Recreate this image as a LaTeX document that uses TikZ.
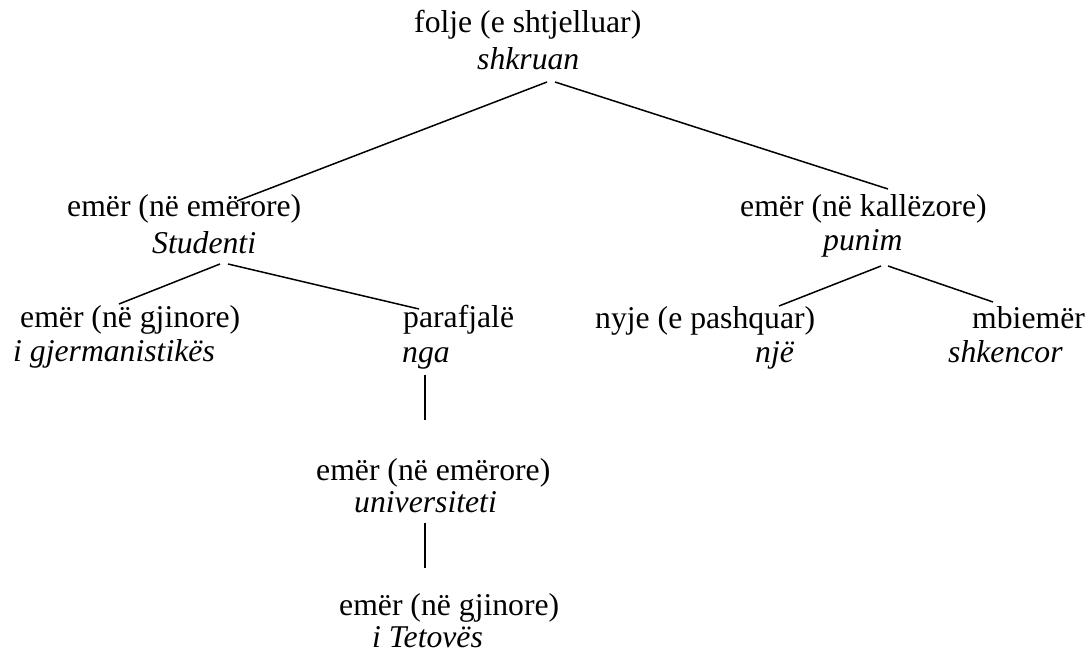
\documentclass[tikz,border=0pt]{standalone}
\usepackage{fontspec}
\setmainfont{Liberation Serif}
\begin{document}
\begin{tikzpicture}[x=1pt,y=-1pt,
  lbl/.style={anchor=base west, inner sep=0pt, font=\fontsize{31.7}{36}\selectfont},
  itl/.style={anchor=base west, inner sep=0pt, font=\fontsize{31.7}{36}\selectfont\itshape},
  edge/.style={line width=1.5pt, black}]
\useasboundingbox (0,0) rectangle (1092,663);
% row 1
\node[lbl] (folje) at (414,33) {folje (e shtjelluar)};
\node[itl] (shkruan) at (477,70) {shkruan};
% row 2
\node[lbl] (emerL) at (67,217) {emër (në emërore)};
\node[itl] (studenti) at (152,253) {Studenti};
\node[lbl] (emerR) at (740,217) {emër (në kallëzore)};
\node[itl] (punim) at (823,250) {punim};
% row 3
\node[lbl] (gjin) at (20,327) {emër (në gjinore)};
\node[itl] (gjerm) at (13,361) {i gjermanistikës};
\node[lbl] (paraf) at (403,327) {parafjalë};
\node[itl] (nga) at (402,362) {nga};
\node[lbl] (nyje) at (595,328) {nyje (e pashquar)};
\node[itl] (nje) at (755,362) {një};
\node[lbl] (mbiem) at (972,328) {mbiemër};
\node[itl] (shkenc) at (948,362) {shkencor};
% row 4
\node[lbl] (emerU) at (316,480) {emër (në emërore)};
\node[itl] (univ) at (354,512) {universiteti};
% row 5
\node[lbl] (gjinT) at (339,615) {emër (në gjinore)};
\node[itl] (tetov) at (372,647) {i Tetovës};
% connector end points
\coordinate (s1) at (547,82);
\coordinate (s2) at (555,82);
\coordinate (e1) at (237,201);
\coordinate (e2) at (888,189);
\coordinate (st1) at (220,264);
\coordinate (st2) at (228,264);
\coordinate (g1) at (119,304);
\coordinate (p1) at (419,309);
\coordinate (pu1) at (881,266);
\coordinate (pu2) at (888,266);
\coordinate (n1) at (779,306);
\coordinate (m1) at (993,302);
\coordinate (v1a) at (425,375);
\coordinate (v1b) at (425,420);
\coordinate (v2a) at (425,523);
\coordinate (v2b) at (425,568);
\draw[edge] (s1) -- (e1);
\draw[edge] (s2) -- (e2);
\draw[edge] (st1) -- (g1);
\draw[edge] (st2) -- (p1);
\draw[edge] (pu1) -- (n1);
\draw[edge] (pu2) -- (m1);
\draw[edge] (v1a) -- (v1b);
\draw[edge] (v2a) -- (v2b);
\end{tikzpicture}
\end{document}
